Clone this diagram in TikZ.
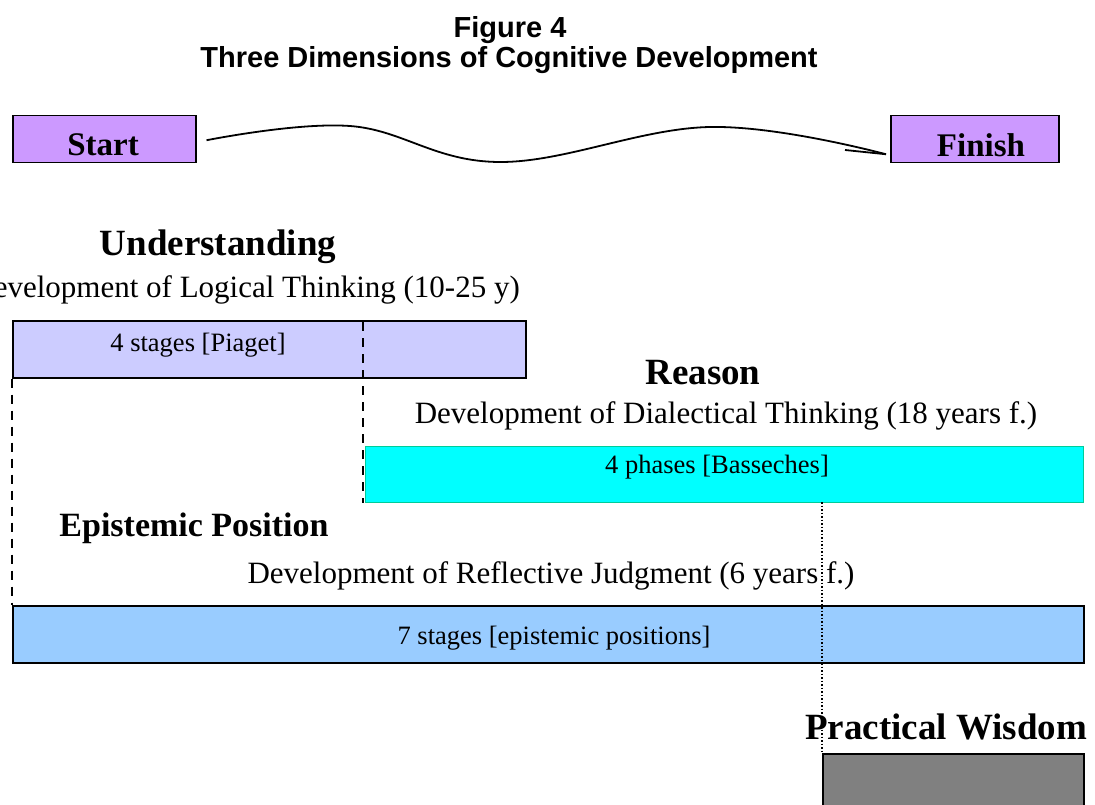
\documentclass[tikz,border=0pt]{standalone}
\usepackage{fontspec}
\setmainfont{Liberation Serif}
\newfontfamily\titlefont{Liberation Sans}
\begin{document}
\begin{tikzpicture}[x=1pt,y=-1pt,
  bar/.style={draw=black, line width=1.5pt, inner sep=0pt, anchor=north west},
  heading/.style={font=\fontsize{37}{44}\selectfont\bfseries, inner sep=0pt},
  subhead/.style={font=\fontsize{31}{37}\selectfont, inner sep=0pt},
  barlabel/.style={font=\fontsize{26.5}{32}\selectfont, inner sep=0pt},
  endbox/.style={draw=black, line width=1.5pt, fill={rgb,255:red,204;green,153;blue,255},
    minimum width=183pt, minimum height=47pt, inner sep=0pt},
  endlabel/.style={font=\fontsize{33}{40}\selectfont\bfseries, inner sep=0pt},
  guide/.style={line width=1.2pt, dash pattern=on 9pt off 7pt},
  dots/.style={line width=1.2pt, dash pattern=on 1.5pt off 2pt}]
\useasboundingbox (0,0) rectangle (1095,805);
\clip (0,0) rectangle (1095,805);

% title
\node[font=\titlefont\fontsize{29}{34}\selectfont\bfseries, inner sep=0pt] (fig) at (510,30) {Figure 4};
\node[font=\titlefont\fontsize{29}{34}\selectfont\bfseries, inner sep=0pt] (title) at (509,60) {Three Dimensions of Cognitive Development};

% start and finish
\node[endbox, anchor=north west] (start) at (12,115) {};
\node[endlabel] (startlbl) at (103,145) {Start};
\node[endbox, minimum width=168pt, anchor=north west] (finish) at (890,115) {};
\node[endlabel] (finishlbl) at (981,145) {Finish};

% wavy path from start to finish
\coordinate (w0) at ([xshift=10pt,yshift=-1pt]start.east);
\coordinate (w1) at (350,126);
\coordinate (w2) at (500,162);
\coordinate (w3) at (710,127);
\coordinate (w4) at ([xshift=-4pt,yshift=-15pt]finish.west);
\coordinate (tick) at (845,150);
\draw[line width=1.8pt, line join=round] plot[smooth, tension=0.65] coordinates {(w0) (w1) (w2) (w3) (w4)};
\draw[line width=1.8pt] (w4) -- (tick);

% understanding
\node[heading] (und) at (218,247) {Understanding};
\node[subhead, anchor=east] (undsub) at (520,290) {Development of Logical Thinking (10-25 y)};
\node[bar, fill={rgb,255:red,204;green,204;blue,255}, minimum width=513pt, minimum height=57pt] (piaget) at (12,320) {};
\node[barlabel] (piagetlbl) at (198,345) {4 stages [Piaget]};

% reason
\node[heading] (reason) at (703,373) {Reason};
\node[subhead] (reasonsub) at (726,416) {Development of Dialectical Thinking (18 years f.)};
\node[bar, draw={rgb,255:red,0;green,204;blue,153}, line width=1.2pt, fill={rgb,255:red,0;green,255;blue,255}, minimum width=718pt, minimum height=56pt] (bass) at (365,446) {};
\node[barlabel] (basslbl) at (717,467) {4 phases [Basseches]};

% epistemic position
\node[heading, font=\fontsize{34}{41}\selectfont\bfseries] (epi) at (194,528) {Epistemic Position};
\node[subhead] (episub) at (551,576) {Development of Reflective Judgment (6 years f.)};
\node[bar, fill={rgb,255:red,153;green,204;blue,255}, minimum width=1071pt, minimum height=57pt] (stages) at (12,605) {};
\node[barlabel] (stageslbl) at (554,638) {7 stages [epistemic positions]};

% practical wisdom
\node[heading] (wis) at (946,727) {Practical Wisdom};
\node[bar, fill={rgb,255:red,128;green,128;blue,128}, minimum width=261pt, minimum height=80pt] (wisbox) at (822,753) {};

% guide lines
\coordinate (gA) at (piaget.south west);
\draw[guide] (gA) -- (stages.north west);
\coordinate (gB) at (363,322);
\draw[guide] (gB) -- (bass.south west -| gB);
\coordinate (gC) at (822,502);
\draw[dots] (gC) -- (wisbox.north west);
\end{tikzpicture}
\end{document}
